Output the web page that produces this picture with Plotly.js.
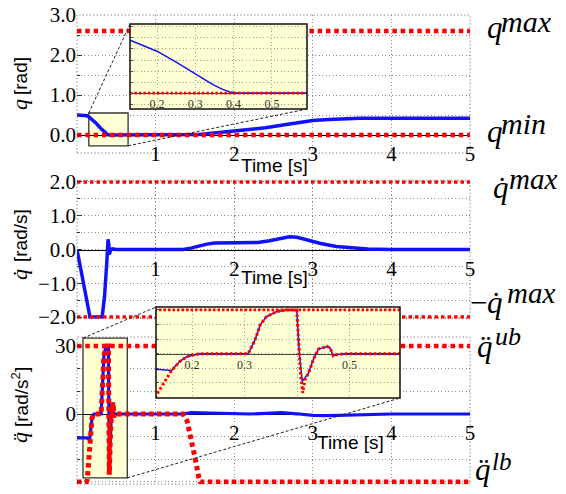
<!DOCTYPE html>
<html><head><meta charset="utf-8">
<script src="https://cdn.plot.ly/plotly-3.0.1.min.js"></script>
<style>html,body{margin:0;padding:0;background:#fff}#chart{width:566px;height:494px}</style>
</head><body>
<div id="chart"></div>
<script>
// ---------- data ----------
const qT  = [0, 0.05, 0.1, 0.13, 0.16, 0.2, 0.25, 0.3, 0.33, 0.35, 0.37, 0.39, 0.41, 0.6, 1.0, 1.35, 1.45, 1.55, 1.65, 1.75, 1.85, 2.0, 2.2, 2.4, 2.6, 2.8, 3.0, 3.2, 3.4, 3.6, 3.8, 4.0, 4.5, 5.0];
const qV  = [0.5, 0.5, 0.495, 0.48, 0.44, 0.38, 0.28, 0.17, 0.11, 0.07, 0.035, 0.01, 0, 0, 0, 0, 0.004, 0.015, 0.03, 0.048, 0.068, 0.095, 0.135, 0.18, 0.245, 0.31, 0.36, 0.39, 0.41, 0.418, 0.42, 0.42, 0.42, 0.42];

const qdT = [0, 0.165, 0.32, 0.35, 0.38, 0.395, 0.405, 0.41, 0.415, 0.42, 0.43, 0.45, 0.5, 1.0, 1.35, 1.45, 1.55, 1.65, 1.75, 1.9, 2.1, 2.3, 2.45, 2.6, 2.7, 2.8, 2.95, 3.1, 3.3, 3.5, 3.7, 4.0, 4.5, 5.0];
const qdV = [0, -2, -2, -1.4, -0.35, 0.3, 0.15, -0.15, 0.05, -0.08, 0, 0.02, 0, 0, 0, 0.04, 0.1, 0.16, 0.19, 0.2, 0.2, 0.21, 0.26, 0.34, 0.38, 0.36, 0.27, 0.18, 0.09, 0.04, 0.015, 0, 0, 0];

const qddT = [0, 0.13, 0.161, 0.177, 0.19, 0.203, 0.215, 0.307, 0.32, 0.33, 0.342, 0.361, 0.38, 0.3995, 0.4045, 0.41, 0.422, 0.431, 0.441, 0.457, 0.463, 0.469, 0.475, 0.49, 0.6, 1.0, 1.35, 1.45, 1.6, 1.8, 2.0, 2.2, 2.4, 2.6, 2.8, 3.0, 3.2, 3.5, 4.0, 5.0];
const qddV = [-10.5, -10.5, -11.5, -5.2, -2, -0.7, 0, 0, 9.5, 19.8, 25.4, 28.8, 30, 30, 0, -18.9, -13.2, -4, 3.2, 5, 4, -1.4, -0.7, 0, 0, 0, 0, 0.6, 0.5, 0.1, 0, 0, 0.3, 0.6, 0.1, -0.6, -0.7, -0.4, 0, 0];

const lbT = [0, 0.12, 0.131, 0.161, 0.177, 0.19, 0.203, 0.215, 0.307, 0.32, 0.33, 0.342, 0.361, 0.38, 0.3995, 0.4045, 0.407, 0.411, 0.415, 0.422, 0.431, 0.441, 0.457, 0.463, 0.469, 0.475, 0.49, 0.6, 1.0, 1.35, 1.4, 1.45, 1.5, 1.55, 1.57, 5.0];
const lbV = [-30, -30, -29, -11.5, -5.2, -2, -0.7, 0, 0, 9.5, 19.8, 25.4, 28.8, 30, 30, 0, -15, -26.8, -18, -13.2, -4, 3.2, 5, 4, -1.4, -0.7, 0, 0, 0, 0, -3, -10, -19, -28, -30, -30];

const boundT = [0, 5];
const qMax = [2.6, 2.6];
const qMin = [0, 0];
const qdUp = [2, 2];
const qdLo = [-2, -2];
const qddUb = [30, 30];

const mainTicks = [1, 2, 3, 4, 5];
const mainTickText = ['1', '2', '3', '4', '5'];
const insetTicks = [0.2, 0.3, 0.4, 0.5];
const insetTopText = ['0.2', '0.3', '0.4', '0.5'];
const insetBotText = ['0.2', '0.3', '', '0.5'];

// ---------- layout helpers ----------
const W = 566, H = 494;
const px = v => v / W;
const py = v => 1 - v / H;

const XD = [px(77), px(470)];
const topY = {domain: [py(153), py(15)], range: [-0.45, 3.0]};
const midY = {domain: [py(318.7), py(180.3)], range: [-2.05, 2.05]};
const botY = {domain: [py(484), py(337)], range: [-30.9, 34]};
const in1X = {domain: [px(130), px(307)], range: [0.1295, 0.5916]};
const in1Y = {domain: [py(109), py(24)], range: [-0.145, 0.627]};
const in2X = {domain: [px(156), px(400)], range: [0.1314, 0.5962]};
const in2Y = {domain: [py(398), py(307)], range: [-30.3, 32]};
const mainX = {domain: XD, range: [0, 5]};

function map(ax, v) {
  return ax.domain[0] + (v - ax.range[0]) / (ax.range[1] - ax.range[0]) * (ax.domain[1] - ax.domain[0]);
}

const SERIF = 'Liberation Serif';
const SANS = 'Liberation Sans';
const BLUE = 'rgb(18,18,250)';
const RED = 'rgb(255,0,0)';
const GRID = '#8a8a8a';
const GDASH = '1.2px,2.3px';
const YEL = '#ffffd4';

const blueMain = {color: BLUE, width: 3.5};
const redMain = {color: RED, width: 4.5, dash: '4.5px,3.8px'};
const redMid = {color: RED, width: 3.5, dash: '3.5px,3px'};

const data = [
  {x: qT, y: qV, xaxis: 'x', yaxis: 'y', mode: 'lines', line: blueMain},
  {x: boundT, y: qMax, xaxis: 'x', yaxis: 'y', mode: 'lines', line: redMain},
  {x: boundT, y: qMin, xaxis: 'x', yaxis: 'y', mode: 'lines', line: redMain},

  {x: qdT, y: qdV, xaxis: 'x2', yaxis: 'y2', mode: 'lines', line: blueMain},
  {x: boundT, y: qdUp, xaxis: 'x2', yaxis: 'y2', mode: 'lines', line: redMid},
  {x: boundT, y: qdLo, xaxis: 'x2', yaxis: 'y2', mode: 'lines', line: redMid},

  {x: qddT, y: qddV, xaxis: 'x3', yaxis: 'y3', mode: 'lines', line: {color: BLUE, width: 3.2}},
  {x: boundT, y: qddUb, xaxis: 'x3', yaxis: 'y3', mode: 'lines', line: redMain},
  {x: lbT, y: lbV, xaxis: 'x3', yaxis: 'y3', mode: 'lines', line: {color: RED, width: 5, dash: '4.5px,3.5px'}},

  {x: qT, y: qV, xaxis: 'x4', yaxis: 'y4', mode: 'lines', line: {color: BLUE, width: 1.5}},
  {x: boundT, y: qMin, xaxis: 'x4', yaxis: 'y4', mode: 'lines', line: {color: RED, width: 2.8, dash: '2.5px,2px'}},

  {x: qddT, y: qddV, xaxis: 'x5', yaxis: 'y5', mode: 'lines', line: {color: BLUE, width: 1.5}},
  {x: boundT, y: qddUb, xaxis: 'x5', yaxis: 'y5', mode: 'lines', line: {color: RED, width: 2.8, dash: '2.5px,2px'}},
  {x: lbT, y: lbV, xaxis: 'x5', yaxis: 'y5', mode: 'lines', line: {color: RED, width: 3, dash: '2.6px,2.2px'}}
];

function mainXAxis(yax) {
  return {
    domain: XD, range: [0, 5], anchor: 'free', position: map(yax, 0),
    tickmode: 'array', tickvals: mainTicks, ticktext: mainTickText,
    tickfont: {family: SERIF, size: 21, color: '#000'},
    showgrid: true, gridcolor: GRID, griddash: GDASH, gridwidth: 1,
    showline: true, linecolor: '#000', linewidth: 1, zeroline: false,
    ticks: '', layer: 'below traces', fixedrange: true
  };
}
function mainYAxis(yax, dtick, minorD, fmt, anchor) {
  return {
    domain: yax.domain, range: yax.range, anchor: anchor,
    tickmode: 'linear', tick0: 0, dtick: dtick, tickformat: fmt,
    tickfont: {family: SERIF, size: 21, color: '#000'},
    ticks: 'inside', ticklen: 5, tickcolor: '#333', tickwidth: 1,
    showgrid: true, gridcolor: GRID, griddash: GDASH, gridwidth: 1,
    minor: {dtick: minorD, tick0: 0, showgrid: true, gridcolor: GRID, griddash: GDASH, gridwidth: 1, ticks: 'inside', ticklen: 3, tickcolor: '#333'},
    zeroline: false, showline: false, fixedrange: true
  };
}

const INGRID = '#a0a088';
const layout = {
  width: W, height: H,
  margin: {l: 0, r: 0, t: 0, b: 0, pad: 0},
  paper_bgcolor: '#fff', plot_bgcolor: '#fff',
  showlegend: false,
  font: {family: SERIF},
  xaxis: mainXAxis(topY),
  yaxis: mainYAxis(topY, 1, 0.5, '.1f', 'x'),
  xaxis2: mainXAxis(midY),
  yaxis2: mainYAxis(midY, 1, 0.5, '.1f', 'x2'),
  xaxis3: mainXAxis(botY),
  yaxis3: mainYAxis(botY, 30, 10, 'd', 'x3'),
  xaxis4: {
    domain: in1X.domain, range: in1X.range, anchor: 'free', position: map(in1Y, 0),
    tickmode: 'array', tickvals: insetTicks, ticktext: insetTopText,
    tickfont: {family: SERIF, size: 12, color: '#333'},
    showgrid: true, gridcolor: INGRID, griddash: GDASH, gridwidth: 1,
    showline: true, linecolor: '#444', linewidth: 1, zeroline: false, ticks: '', layer: 'below traces'
  },
  yaxis4: {
    domain: in1Y.domain, range: in1Y.range, anchor: 'x4',
    tickmode: 'linear', tick0: 0, dtick: 0.1, showticklabels: false,
    ticks: 'inside', ticklen: 3, tickcolor: '#555',
    showgrid: true, gridcolor: INGRID, griddash: GDASH, gridwidth: 1, zeroline: false, showline: false
  },
  xaxis5: {
    domain: in2X.domain, range: in2X.range, anchor: 'free', position: map(in2Y, 0),
    tickmode: 'array', tickvals: insetTicks, ticktext: insetBotText,
    tickfont: {family: SERIF, size: 12, color: '#333'},
    showgrid: true, gridcolor: INGRID, griddash: GDASH, gridwidth: 1,
    showline: true, linecolor: '#444', linewidth: 1, zeroline: false, ticks: '', layer: 'below traces'
  },
  yaxis5: {
    domain: in2Y.domain, range: in2Y.range, anchor: 'x5',
    tickmode: 'linear', tick0: 0, dtick: 10, showticklabels: false,
    ticks: 'inside', ticklen: 3, tickcolor: '#555',
    showgrid: true, gridcolor: INGRID, griddash: GDASH, gridwidth: 1, zeroline: false, showline: false
  },
  shapes: [],
  annotations: []
};

// frames of main plots
[['x', 'y'], ['x2', 'y2'], ['x3', 'y3']].forEach(([xa, ya]) => {
  layout.shapes.push({type: 'rect', xref: xa + ' domain', yref: ya + ' domain', x0: 0, x1: 1, y0: 0, y1: 1,
    line: {color: '#777', width: 1, dash: GDASH}, fillcolor: 'rgba(0,0,0,0)', layer: 'below'});
});

// highlight boxes in main plots
const box1 = {x0: 0.15, x1: 0.65, y0: -0.27, y1: 0.55};
const box2 = {x0: 0.076, x1: 0.64, y0: -28.2, y1: 33.5};
layout.shapes.push({type: 'rect', xref: 'x', yref: 'y', ...box1, fillcolor: YEL, line: {color: '#333', width: 1.3}, layer: 'between'});
layout.shapes.push({type: 'rect', xref: 'x3', yref: 'y3', ...box2, fillcolor: YEL, line: {color: '#333', width: 1.3}, layer: 'between'});

// inset backgrounds
layout.shapes.push({type: 'rect', xref: 'x4', yref: 'y4', x0: in1X.range[0], x1: in1X.range[1], y0: in1Y.range[0], y1: in1Y.range[1], fillcolor: YEL, line: {width: 0}, layer: 'below'});
layout.shapes.push({type: 'rect', xref: 'x5', yref: 'y5', x0: in2X.range[0], x1: in2X.range[1], y0: in2Y.range[0], y1: in2Y.range[1], fillcolor: YEL, line: {width: 0}, layer: 'below'});
// inset borders
layout.shapes.push({type: 'rect', xref: 'paper', yref: 'paper', x0: in1X.domain[0], x1: in1X.domain[1], y0: in1Y.domain[0], y1: in1Y.domain[1], line: {color: '#111', width: 1.5}, layer: 'above'});
layout.shapes.push({type: 'rect', xref: 'paper', yref: 'paper', x0: in2X.domain[0], x1: in2X.domain[1], y0: in2Y.domain[0], y1: in2Y.domain[1], line: {color: '#111', width: 1.5}, layer: 'above'});

// connectors
function conn(xa, ya, bx, by, tx, ty) {
  layout.shapes.push({type: 'line', xref: 'paper', yref: 'paper',
    x0: map(xa, bx), y0: map(ya, by), x1: tx, y1: ty,
    line: {color: '#222', width: 1, dash: '3px,2px'}, layer: 'above'});
}
conn(mainX, topY, box1.x0, box1.y1, in1X.domain[0], in1Y.domain[1]);
conn(mainX, topY, box1.x1, box1.y0, in1X.domain[1], in1Y.domain[0]);
conn(mainX, botY, box2.x0, box2.y1, in2X.domain[0], in2Y.domain[1]);
conn(mainX, botY, box2.x1, box2.y0, in2X.domain[1], in2Y.domain[0]);

// text annotations
function ann(text, x, y, opts) {
  layout.annotations.push(Object.assign({text: text, x: px(x), y: py(y), xref: 'paper', yref: 'paper', showarrow: false,
    xanchor: 'center', yanchor: 'middle', borderpad: 0, font: {family: SANS, size: 19, color: '#000'}}, opts || {}));
}
ann('Time [s]', 274, 165);
ann('Time [s]', 274, 277);
ann('Time [s]', 350, 442);

// y-axis titles (italic serif symbol + sans unit), rotated
const symF = {family: SERIF, size: 22, color: '#000'};
ann('<i>q</i>', 19, 105, {textangle: -90, font: symF});
ann('[rad]', 20, 76, {textangle: -90});
ann('<i>q\u0307</i>', 19, 275, {textangle: -90, font: symF});
ann('[rad/s]', 20, 236, {textangle: -90});
ann('<i>q\u0308</i>', 19, 438, {textangle: -90, font: symF});
ann('[rad/s<sup>2</sup>]', 20, 397, {textangle: -90});

// right-hand bound labels: base symbol and superscript, placed by baseline
function lbl(text, xLeft, baseline, size) {
  ann('<i>' + text + '</i>', xLeft, baseline - 0.3375 * size, {xanchor: 'left', font: {family: SERIF, size: size, color: '#000'}});
}
lbl('q', 486, 38, 31);        lbl('max', 500, 32, 30);
lbl('q', 486, 142, 31);       lbl('min', 500, 134, 30);
lbl('q\u0307', 492, 198, 31); lbl('max', 508, 189, 29);
ann('\u2212', 469, 313 - 0.3375 * 31, {xanchor: 'left', font: {family: SERIF, size: 31, color: '#000'}});
lbl('q\u0307', 486, 313, 31); lbl('max', 506, 303, 29);
lbl('q\u0308', 476, 357, 31); lbl('ub', 494, 345, 26);
lbl('q\u0308', 474, 480, 31); lbl('lb', 491, 470, 25);

Plotly.newPlot('chart', data, layout, {staticPlot: true, displayModeBar: false});
if (document.fonts && document.fonts.load) {
  Promise.all([
    document.fonts.load('20px "Liberation Serif"'),
    document.fonts.load('italic 20px "Liberation Serif"'),
    document.fonts.load('20px "Liberation Sans"')
  ]).then(() => Plotly.redraw('chart')).catch(() => {});
}
</script>
</body></html>
